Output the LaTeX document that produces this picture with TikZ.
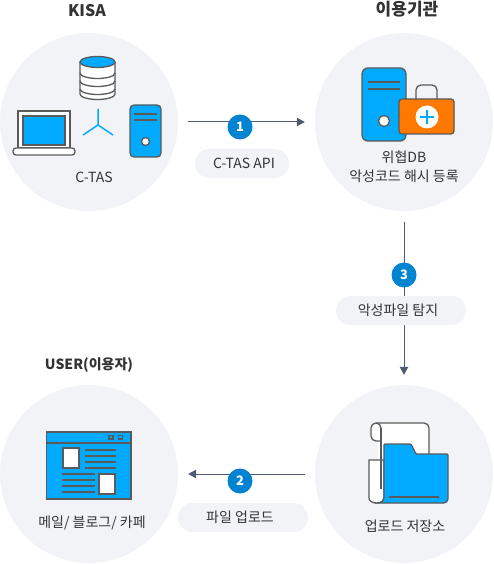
\documentclass[tikz,border=0pt]{standalone}
\usepackage{fontspec}
\setmainfont{Noto Sans CJK KR}
\usetikzlibrary{arrows.meta}
\definecolor{fond}{HTML}{F2F3F7}
\definecolor{bleu}{HTML}{00AAFF}
\definecolor{badgebleu}{HTML}{0084D1}
\definecolor{orange}{HTML}{FF7800}
\definecolor{trait}{HTML}{5A5A5A}
\definecolor{fleche}{HTML}{4F5B6E}
\definecolor{texte}{HTML}{333333}
\tikzset{
  rond/.style={circle,fill=fond,minimum size=178pt,inner sep=0pt},
  pilule/.style={rounded corners=14.5pt,fill=fond,minimum height=29pt,inner sep=0pt,
                 text=texte,font=\fontsize{14}{16}\selectfont},
  badge/.style={circle,fill=badgebleu,text=white,minimum size=25pt,inner sep=0pt,
                font=\bfseries\fontsize{13}{16}\selectfont},
  titre/.style={text=texte,inner sep=0pt,font=\bfseries\fontsize{#1}{19}\selectfont},
  titre/.default=16,
  legende/.style={text=texte,align=center,font=\fontsize{14}{19}\selectfont,inner sep=0pt},
  lien/.style={-{Triangle[length=8pt,width=8.5pt]},line width=1pt,color=fleche},
  icone/.style={draw=trait,line width=1.3pt,fill=#1},
  icone/.default=white,
  ligne/.style={draw=trait,line width=1.3pt},
}
\begin{document}
\begin{tikzpicture}[x=1pt,y=-1pt]
  \useasboundingbox (0,0) rectangle (493,564);
  \node[rond] (kisa) at (89,122) {};
  \node[rond] (org) at (404,122) {};
  \node[rond] (user) at (89,474) {};
  \node[rond] (upload) at (404,474) {};
  \draw[lien,shorten <=10pt,shorten >=10pt] (kisa) -- (org);
  \draw[lien,shorten <=11pt,shorten >=10pt] (org) -- (upload);
  \draw[lien,shorten <=10pt,shorten >=10pt] (upload) -- (user);
  % etapes
  \node[badge] (b1) at (240,127) {1};
  \node[badge] (b3) at (404,275) {3};
  \node[badge] (b2) at (240,481) {2};
  \node[pilule,minimum width=94pt] (p1) at (242,163.5) {\hspace*{4pt}C-TAS API};
  \node[pilule,minimum width=130pt] (p3) at (401,310.5) {악성파일 탐지\hspace*{6pt}};
  \node[pilule,minimum width=130pt] (p2) at (243,517.5) {파일 업로드\hspace*{6pt}};
  % titres
  \node[titre] (t1) at (87,11) {KISA};
  \node[titre=17] (t2) at (407,9) {이용기관};
  \node[titre=14] (t3) at (89,365) {USER(이용자)};
  % legendes
  \node[legende] (l1) at (94,177) {C-TAS};
  \node[legende] (l2) at (404,166.5) {위협DB\\악성코드 해시 등록};
  \node[legende] (l3) at (92,523) {메일/ 블로그/ 카페};
  \node[legende] (l4) at (405,526) {업로드 저장소};
  % base de donnees
  \draw[icone] (80,62) -- (80,94) arc[start angle=180,end angle=0,x radius=17.5,y radius=5.5] -- (115,62);
  \foreach \y in {73,81,89}
    \draw[ligne] (80,\y) arc[start angle=180,end angle=0,x radius=17.5,y radius=5.5];
  \draw[icone=bleu] (97.5,62) ellipse[x radius=17.5,y radius=5.5];
  % portable
  \draw[icone] (18,111) rectangle (70,148);
  \draw[icone=bleu] (23,116) rectangle (65,145);
  \draw[icone,rounded corners=3pt] (13,148) -- (13,155) -- (75,155) -- (75,148) -- cycle;
  % reseau
  \draw[bleu,line width=1.5pt] (98,109) -- (98,125) (83,135) -- (98,125) -- (113,135);
  % tour
  \draw[icone=bleu,rounded corners=4pt] (130,105) rectangle (161,157);
  \draw[ligne] (134,114) -- (157,114) (134,120) -- (157,120);
  \draw[icone] (145.5,141.5) circle[radius=4];
  % serveur et mallette
  \draw[icone=bleu,rounded corners=6pt] (362,68) rectangle (406,141);
  \draw[ligne] (368,82) -- (400,82) (368,89) -- (400,89);
  \draw[icone] (384,121) circle[radius=5.5];
  \draw[ligne,rounded corners=5pt] (416,99) -- (416,85) -- (437,85) -- (437,99);
  \draw[icone=orange,rounded corners=3pt] (399,99) rectangle (454,134);
  \fill[white] (427,117) circle[radius=11.5];
  \draw[bleu,line width=1.2pt] (420,117) -- (434,117) (427,110) -- (427,124);
  % page web
  \draw[icone=bleu] (46.5,432) rectangle (131,499);
  \draw[ligne] (46.5,443) -- (131,443);
  \draw[ligne] (109,435.5) rectangle (113,439) (118.5,435.5) rectangle (122.5,439);
  \draw[icone] (63,448) rectangle (79,468);
  \draw[icone] (99,474) rectangle (115,494);
  \foreach \y in {450,456,462,468}
    \draw[ligne] (85,\y) -- (116,\y);
  \foreach \y in {474,480,486,492}
    \draw[ligne] (62,\y) -- (95,\y);
  % rouleau et dossier
  \fill[white,rounded corners=4pt] (376,423) -- (429,423) -- (429,470) -- (381,489) -- cycle;
  \draw[icone,rounded corners=5pt] (381,441) -- (371,441) -- (371,423) -- (381,423) -- (381,441);
  \draw[ligne,rounded corners=5pt] (376,423) -- (429,423) -- (429,456);
  \fill[white] (381,428) rectangle (400,489);
  \draw[ligne] (381,428) -- (381,489) -- (385,489);
  \draw[icone] (381,460) -- (369,460) -- (369,498) .. controls (369,501) and (372,503) .. (377,503)
    .. controls (381,503) and (384,501) .. (384,497) -- (384,460) -- cycle;
  \draw[ligne] (381,460) -- (381,489);
  \draw[icone=bleu,rounded corners=1pt] (384,497) -- (384,444) -- (411,444) -- (416,454) -- (448,454) -- (448,498)
    .. controls (448,501) and (446,503) .. (443,503) -- (377,503) .. controls (381,503) and (384,501) .. (384,497) -- cycle;
  \draw[ligne] (389,497) -- (439,497);
\end{tikzpicture}
\end{document}
